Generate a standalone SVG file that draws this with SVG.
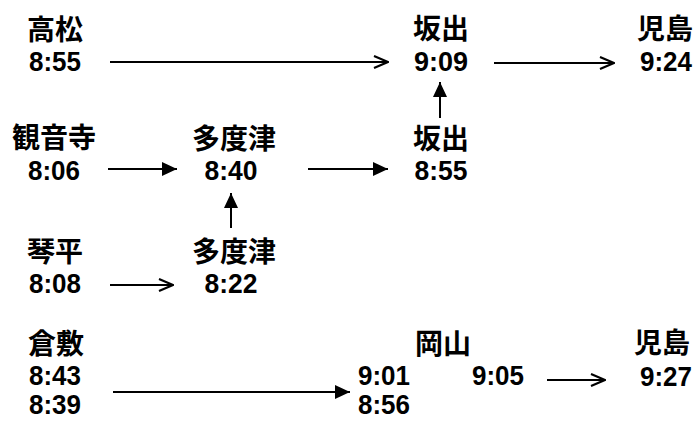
<svg xmlns="http://www.w3.org/2000/svg" width="697" height="421" viewBox="0 0 697 421">
<style>
.j{font-family:"Noto Sans CJK JP","Noto Sans CJK SC",sans-serif;font-weight:bold;font-size:28px;fill:#000;text-anchor:middle}
.t{font-family:"Liberation Sans",Arial,sans-serif;font-weight:bold;font-size:28px;fill:#000;text-anchor:middle}
.l{stroke:#000;stroke-width:2;fill:none}
</style>
<defs>
<marker id="open" viewBox="0 0 16 14" refX="15" refY="7" markerWidth="16" markerHeight="14" markerUnits="userSpaceOnUse" orient="auto">
<path d="M1,1 L15,7 L1,13" fill="none" stroke="#000" stroke-width="2.2"/>
</marker>
<marker id="fill" viewBox="0 0 15 14" refX="15" refY="7" markerWidth="15" markerHeight="14" markerUnits="userSpaceOnUse" orient="auto">
<path d="M0,0 L15,7 L0,14 Z" fill="#000"/>
</marker>
</defs>
<rect width="697" height="421" fill="#fff"/>
<g id="takamatsu"><text class="j" x="55" y="40">高松</text><text class="t" x="55" y="71" textLength="52" lengthAdjust="spacingAndGlyphs">8:55</text></g>
<g id="sakaide1"><text class="j" x="441" y="39">坂出</text><text class="t" x="441" y="71" textLength="54" lengthAdjust="spacingAndGlyphs">9:09</text></g>
<g id="kojima1"><text class="j" x="665" y="39">児島</text><text class="t" x="666" y="71" textLength="52" lengthAdjust="spacingAndGlyphs">9:24</text></g>
<g id="kanonji"><text class="j" x="54" y="148">観音寺</text><text class="t" x="54" y="180" textLength="52" lengthAdjust="spacingAndGlyphs">8:06</text></g>
<g id="tadotsu1"><text class="j" x="234" y="149">多度津</text><text class="t" x="231" y="180" textLength="53" lengthAdjust="spacingAndGlyphs">8:40</text></g>
<g id="sakaide2"><text class="j" x="441" y="149">坂出</text><text class="t" x="441" y="180" textLength="53" lengthAdjust="spacingAndGlyphs">8:55</text></g>
<g id="kotohira"><text class="j" x="55" y="262">琴平</text><text class="t" x="55" y="293" textLength="52" lengthAdjust="spacingAndGlyphs">8:08</text></g>
<g id="tadotsu2"><text class="j" x="234" y="262">多度津</text><text class="t" x="231" y="293" textLength="53" lengthAdjust="spacingAndGlyphs">8:22</text></g>
<g id="kurashiki"><text class="j" x="56" y="354">倉敷</text><text class="t" x="55" y="385" textLength="52" lengthAdjust="spacingAndGlyphs">8:43</text><text class="t" x="55" y="414" textLength="52" lengthAdjust="spacingAndGlyphs">8:39</text></g>
<g id="okayama"><text class="j" x="443" y="354">岡山</text><text class="t" x="384" y="385" textLength="52" lengthAdjust="spacingAndGlyphs">9:01</text><text class="t" x="384" y="414" textLength="52" lengthAdjust="spacingAndGlyphs">8:56</text><text class="t" x="498" y="385" textLength="52" lengthAdjust="spacingAndGlyphs">9:05</text></g>
<g id="kojima2"><text class="j" x="662" y="353">児島</text><text class="t" x="666" y="386" textLength="52" lengthAdjust="spacingAndGlyphs">9:27</text></g>
<g id="connectors">
<line class="l" x1="110" y1="62" x2="388" y2="62" marker-end="url(#open)"/>
<line class="l" x1="494" y1="63" x2="614" y2="63" marker-end="url(#open)"/>
<line class="l" x1="108" y1="169" x2="177" y2="169" marker-end="url(#fill)"/>
<line class="l" x1="308" y1="169" x2="388" y2="169" marker-end="url(#fill)"/>
<line class="l" x1="440" y1="118" x2="440" y2="82" marker-end="url(#fill)"/>
<line class="l" x1="231" y1="228" x2="231" y2="193" marker-end="url(#fill)"/>
<line class="l" x1="110" y1="285" x2="173" y2="285" marker-end="url(#open)"/>
<line class="l" x1="113" y1="392" x2="350" y2="392" marker-end="url(#fill)"/>
<line class="l" x1="547" y1="380" x2="605" y2="380" marker-end="url(#open)"/>
</g>
</svg>
